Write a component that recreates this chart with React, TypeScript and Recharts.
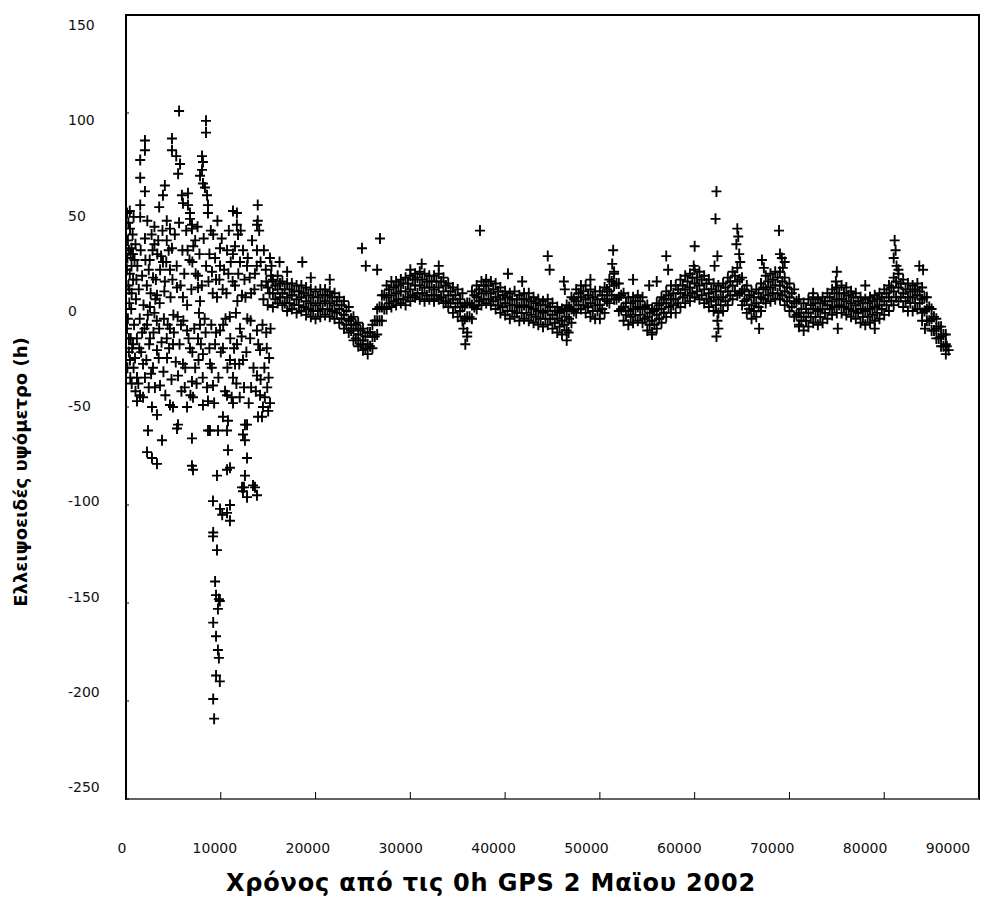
import React from "react";
import { ScatterChart, Scatter, XAxis, YAxis, ReferenceArea } from "recharts";

// tick labels
const xTicks = [0, 10000, 20000, 30000, 40000, 50000, 60000, 70000, 80000, 90000];
const yTicks = [-250, -200, -150, -100, -50, 0, 50, 100, 150];

// dense band after ~15500 s, sampled every 500 s (centre, upper and lower edge)
const bandStart = 15500;
const bandStep = 500;
const bandMid = [
  8, 10, 8, 6, 7, 5, 6, 4, 3, 2,
  3, 4, 3, 2, 0, -3, -6, -10, -13, -16,
  -18, -14, -6, 1, 6, 7, 8, 9, 9, 10,
  12, 12, 11, 11, 10, 11, 9, 7, 5, 3,
  1, -4, 2, 6, 8, 9, 8, 6, 5, 3,
  2, 2, 1, 2, 1, 0, -1, -2, -1, -3,
  -5, -6, -4, 0, 4, 6, 5, 3, 2, 2,
  5, 9, 12, 6, 1, -1, 0, 1, 0, -4,
  -6, -3, 0, 3, 5, 5, 8, 10, 11, 13,
  12, 10, 8, 6, 5, 6, 9, 12, 14, 9,
  5, 2, 3, 6, 10, 11, 12, 12, 9, 6,
  3, -2, -4, -2, 0, -1, 0, 2, 4, 5,
  5, 4, 3, 2, 0, -1, 0, 1, 2, 4,
  6, 9, 11, 8, 6, 6, 7, 5, 0, -5,
  -10, -14, -18,
];
const bandHigh = [
  15, 17, 14, 13, 13, 12, 12, 11, 10, 9,
  10, 10, 9, 8, 6, 4, 1, -4, -7, -10,
  -12, -8, 0, 7, 12, 14, 14, 15, 16, 17,
  18, 19, 18, 17, 17, 18, 16, 13, 11, 10,
  8, 3, 9, 12, 14, 15, 14, 13, 11, 9,
  8, 9, 7, 8, 8, 6, 5, 4, 5, 3,
  1, 0, 2, 6, 10, 12, 12, 10, 9, 9,
  11, 15, 18, 13, 8, 6, 6, 7, 6, 2,
  0, 3, 6, 9, 12, 12, 15, 17, 18, 20,
  19, 17, 15, 13, 12, 13, 16, 19, 21, 16,
  12, 9, 10, 13, 17, 18, 19, 19, 16, 13,
  10, 5, 3, 5, 6, 5, 6, 8, 10, 11,
  12, 11, 9, 8, 6, 5, 6, 7, 8, 10,
  12, 16, 18, 15, 13, 12, 13, 11, 6, 0,
  -5, -9, -13,
];
const bandLow = [
  1, 3, 2, -1, 0, -2, -1, -3, -4, -5,
  -4, -3, -4, -5, -7, -10, -12, -16, -19, -21,
  -23, -20, -13, -6, 0, 1, 2, 3, 2, 4,
  6, 5, 4, 5, 4, 5, 3, 1, -2, -4,
  -6, -12, -5, 0, 2, 3, 2, 0, -2, -3,
  -5, -4, -6, -5, -6, -7, -8, -9, -8, -10,
  -12, -13, -11, -7, -2, 0, -2, -4, -5, -5,
  -2, 3, 5, -1, -6, -8, -7, -6, -7, -11,
  -13, -10, -7, -4, -2, -2, 1, 3, 4, 6,
  5, 3, 1, -1, -2, -1, 2, 5, 7, 2,
  -2, -5, -4, -1, 3, 4, 5, 5, 2, -1,
  -4, -9, -11, -9, -7, -8, -7, -5, -3, -2,
  -2, -3, -4, -5, -7, -8, -7, -6, -5, -3,
  -1, 2, 4, 1, -1, -1, 0, -2, -6, -11,
  -15, -19, -23,
];

// second pass of the band, half a step later (upper and lower inner rows)
const band2Start = 15750;
const bandUpperInner = [
  12, 13, 10, 10, 9, 9, 8, 7, 6, 6,
  7, 7, 6, 4, 2, -1, -5, -8, -11, -14,
  -12, -6, 1, 7, 10, 11, 12, 13, 13, 15,
  16, 15, 14, 14, 14, 14, 12, 9, 7, 5,
  2, 3, 7, 10, 12, 12, 10, 9, 7, 6,
  5, 5, 5, 5, 4, 3, 2, 2, 1, -1,
  -2, -1, 1, 5, 8, 9, 7, 6, 5, 7,
  10, 14, 13, 7, 3, 3, 4, 4, 1, -2,
  -1, 2, 5, 7, 8, 10, 12, 14, 16, 16,
  15, 13, 10, 9, 9, 11, 14, 17, 15, 10,
  7, 6, 8, 11, 14, 15, 16, 14, 11, 8,
  4, 0, 0, 2, 3, 3, 4, 6, 8, 8,
  8, 7, 6, 4, 3, 3, 4, 5, 6, 8,
  11, 14, 13, 10, 9, 10, 9, 6, 1, -4,
  -9, -13,
];
const bandLowerInner = [
  5, 6, 3, 3, 2, 2, 1, 0, -1, -1,
  0, 0, -1, -2, -5, -8, -11, -15, -18, -20,
  -19, -14, -6, 0, 3, 4, 5, 5, 6, 7,
  8, 8, 7, 7, 7, 6, 4, 3, 1, -1,
  -5, -4, 1, 4, 5, 5, 4, 2, 1, -1,
  -1, -2, -2, -2, -3, -4, -5, -5, -5, -7,
  -9, -8, -5, -1, 2, 2, 1, -1, -1, 0,
  4, 7, 5, 0, -3, -4, -3, -3, -5, -8,
  -8, -5, -2, 1, 2, 3, 6, 7, 8, 9,
  7, 5, 4, 2, 2, 4, 7, 9, 8, 4,
  0, -1, 1, 5, 7, 8, 8, 7, 4, 1,
  -3, -6, -6, -4, -4, -4, -2, 0, 1, 2,
  1, 0, -1, -2, -4, -4, -3, -2, 0, 2,
  4, 6, 6, 4, 3, 3, 3, -1, -6, -11,
  -15, -19,
];

// isolated spikes around the band: [time, height]
const bandSpikes = [
  [16200, 24], [17000, 19], [18600, 24], [19500, 16], [21500, 15],
  [24900, 31], [26800, 36], [25300, 22], [26500, 20],
  [30000, 20], [31200, 23], [33000, 22],
  [35800, -18], [36000, -14], [35600, -10],
  [37350, 40], [40300, 18], [41800, 14],
  [44500, 27], [44700, 20],
  [46500, -16], [46700, -12], [46300, 10], [46200, 14], [49000, 15],
  [51400, 30], [51300, 23], [51500, 19], [53500, 15],
  [55500, -12], [55200, 12], [56000, 14], [57200, 20], [57000, 27],
  [60000, 32], [59900, 22],
  [62300, 60], [62200, 46], [62400, 27], [62100, 22], [62300, -14], [62500, -10], [62400, -6],
  [64500, 41], [64600, 37], [64400, 33], [64700, 28], [64800, 24],
  [67100, 25], [67300, 21], [66800, -10],
  [68900, 40], [69000, 28], [69200, 26], [69500, 24], [69300, 21],
  [71000, -8], [72500, 8],
  [75000, 19], [74900, 14], [75100, -10], [78000, 12], [79000, -10],
  [81100, 35], [81200, 30], [81000, 26], [81300, 22], [81500, 20],
  [83700, 22], [84100, 20], [84000, -6], [84300, -10],
  [86800, -21], [86600, -19],
];

// first 15000 s, scattered points above zero
const earlyUpper = [
  [5600, 101], [8440, 96], [8440, 90],
  [2000, 86], [2000, 81], [1500, 76], [1500, 67], [2000, 60], [1500, 53], [1500, 47], [2000, 36],
  [4850, 87], [4850, 81], [5300, 78], [5700, 74], [5500, 69],
  [4100, 63], [3900, 58], [3500, 52], [4300, 45], [4640, 41], [4300, 35], [4850, 31], [3900, 24], [4640, 20], [4100, 14],
  [5900, 58], [6010, 54], [6540, 59], [6540, 53], [6750, 49], [6960, 43],
  [8020, 78], [8120, 75], [8020, 71], [7810, 68], [8120, 64], [8330, 62], [8550, 58], [8650, 53], [8650, 49],
  [6750, 46], [6960, 41],
  [11700, 49], [11700, 43], [11820, 38], [11290, 50],
  [13900, 53], [13900, 45], [13820, 43],
  [9920, 31], [10660, 30], [11290, 28], [9920, 22], [12030, 24], [12770, 22], [13820, 30], [15190, 26], [15300, 17], [14970, 11],
  [9070, 19], [105, 49], [420, 41], [580, 31], [740, 28], [580, 22],
  [7600, 17], [7600, 11], [7810, 4], [2850, 16], [3270, 7], [2530, 1], [5380, 11], [6010, 6],
  [9600, 6], [12240, 7],
  [200, 35], [300, 30], [150, 26], [400, 18], [250, 12], [600, 8], [350, 3], [900, 25], [1100, 15], [400, 50], [800, 47],
  [2700, 38], [3000, 33], [2500, 25], [3300, 28], [3600, 20], [2200, 12], [3100, 5],
  [6500, 30], [7000, 24], [7300, 35], [9200, 38], [8800, 28], [9500, 15], [10200, 10], [10800, 18],
  [11500, 12], [12500, 15], [13200, 8], [13600, 18], [14200, 24], [14500, 5], [14800, 14],
];

// first 15000 s, the crowded middle between about -45 and +45
const earlyMiddle = [
  [100, 20], [150, -30], [250, 44], [300, -15], [350, 10], [450, -35], [500, 28], [550, 0], [650, -20], [700, 38],
  [750, 15], [850, -8], [950, -25], [1000, 33], [1050, 5], [1150, -15], [1200, 22], [1300, -38], [1350, 10], [1450, -5],
  [1550, 30], [1600, -22], [1700, 17], [1800, -45], [1850, 2], [1950, -10], [2050, 25], [2150, -26], [2250, 45], [2300, -3],
  [2400, 20], [2450, -18], [2600, 8], [2650, -33], [2800, 30], [2900, -12], [3000, 42], [3050, -40], [3150, 15], [3250, -6],
  [3400, 35], [3450, -25], [3550, 3], [3700, 27], [3750, -17], [3850, 40], [3950, -32], [4050, 9], [4150, -44], [4250, 24],
  [4400, -8], [4500, 30], [4550, -20], [4700, 6], [4800, -36], [4900, 15], [5050, -12], [5150, 38], [5250, -27], [5350, 22],
  [5450, -4], [5600, 44], [5650, -18], [5750, 12], [5850, -42], [5950, 30], [6050, -6], [6150, 18], [6250, -30], [6350, 40],
  [6450, 2], [6600, -15], [6700, 25], [6800, -44], [6900, 10], [7000, -22], [7100, 32], [7200, -10], [7350, 18], [7450, -38],
  [7550, 42], [7650, -26], [7750, 28], [7900, -18], [8000, 12], [8100, -35], [8200, 36], [8300, -5], [8450, 22], [8550, -40],
  [8700, 14], [8800, -20], [8950, 40], [9050, -30], [9150, 8], [9300, -48], [9400, 26], [9500, -12], [9650, 45], [9750, -35],
  [9850, 15], [10000, -22], [10100, 36], [10250, -8], [10350, 20], [10450, -42], [10600, 8], [10700, -30], [10850, 40], [10950, -4],
  [11050, 24], [11150, -45], [11250, 14], [11400, -20], [11500, 32], [11650, -38], [11750, 4], [11850, 18], [11950, -28], [12100, 40],
  [12200, -14], [12350, 30], [12450, -40], [12600, 6], [12700, -22], [12850, 26], [12950, -48], [13050, 16], [13150, -6], [13300, 35],
  [13450, -30], [13550, 10], [13700, -42], [13800, 22], [13950, -18], [14050, 40], [14200, -36], [14300, 12], [14400, -8], [14550, 30],
  [14650, -45], [14750, 20], [14850, -20], [14950, 2], [15050, -35], [15150, 8], [15250, -10], [15350, 22], [15450, 14],
];

// first 15000 s, scattered points below zero
const earlyLower = [
  [105, -10], [740, -18], [420, -26], [1160, -35], [1480, -44], [1160, -47],
  [2220, -8], [2530, -15], [3270, -21], [2850, -30], [3590, -39], [2740, -50], [3270, -54],
  [4640, -10], [4960, -18], [4330, -25], [5490, -34], [4640, -49], [5490, -59],
  [6440, -11], [6750, -20], [6010, -28], [6960, -37], [7070, -45], [6440, -50],
  [7810, -8], [7600, -15], [8120, -23],
  [8860, -28], [9180, -39], [8650, -47], [8860, -62],
  [9920, -11], [10230, -20], [10970, -26], [10660, -44], [10230, -55], [10660, -62], [10760, -72], [10970, -81],
  [12030, -10], [11710, -18], [12340, -26], [11290, -35], [12550, -59], [12340, -64], [12770, -76], [12550, -85], [12340, -93], [13400, -90],
  [13820, -11], [14140, -21], [13820, -34], [14140, -44], [14450, -50], [13930, -55],
  [9180, -98], [9920, -102], [10150, -105],
  [2320, -62], [3800, -67], [2220, -73], [2740, -76], [3270, -79], [5380, -61], [6960, -66], [6960, -80], [7070, -82],
  [8650, -62], [9710, -62], [10760, -57], [12770, -59], [12550, -67], [14350, -55],
  [10660, -82], [12240, -91], [12450, -91], [10970, -100], [10660, -104], [10970, -108], [9600, -85], [13610, -91], [13820, -95], [12770, -96],
  [4960, -50], [8120, -49], [11290, -48],
  [200, -5], [500, -15], [300, -22], [800, -30], [600, -38], [1000, -42], [1400, -20], [1800, -28], [1700, -12], [2000, -35], [2400, -40],
  [3000, -2], [3500, -10], [4000, -5], [4300, -15], [5000, -3], [5800, -8], [6200, -40], [7300, -30], [7700, -2], [8400, -12],
  [9000, -8], [9400, -18], [10500, -5], [11000, -15], [11600, -2], [12800, -5], [13100, -15], [14600, -30], [14800, -12],
  [14900, -40], [15100, -25], [15200, -48], [15000, -52], [13200, -40], [12000, -45], [11500, -28],
];

// the deep excursion near 9000-10000 s
const earlyTail = [
  [9200, -114], [9180, -116], [9600, -123], [9400, -139], [9500, -146], [9800, -148], [9900, -149], [9700, -153],
  [9200, -160], [9500, -167], [9700, -174], [9800, -178], [9500, -187], [9900, -190], [9200, -199], [9300, -209],
];

const fromBand = (vals: number[], start: number) => vals.map((y, i) => ({ x: start + i * bandStep, y }));
const fromPairs = (pts: number[][]) => pts.map(([x, y]) => ({ x, y }));

const Plus = (props: any) => {
  const { cx, cy } = props;
  if (cx == null || cy == null) return null;
  return (
    <path
      d={`M${cx - 5},${cy}H${cx + 5}M${cx},${cy - 5.5}V${cy + 5.5}`}
      stroke="#000"
      strokeWidth={1.9}
      fill="none"
    />
  );
};

const XTick = (props: any) => {
  const { x, y, payload } = props;
  const f = payload.value / 90000;
  return (
    <text x={x - 4 - f * 17} y={y} dy={11} textAnchor="middle" fontSize={14} fontFamily="DejaVu Sans" fill="#111">
      {payload.value}
    </text>
  );
};

const YTick = (props: any) => {
  const { y, payload } = props;
  const off = 10 - (150 - payload.value) * 0.055;
  return (
    <text x={68} y={y + off} dy={5} textAnchor="start" fontSize={14} fontFamily="DejaVu Sans" fill="#111">
      {payload.value}
    </text>
  );
};

const series = [
  fromBand(bandMid, bandStart),
  fromBand(bandHigh, bandStart),
  fromBand(bandLow, bandStart),
  fromBand(bandUpperInner, band2Start),
  fromBand(bandLowerInner, band2Start),
  fromPairs(bandSpikes),
  fromPairs(earlyUpper),
  fromPairs(earlyMiddle),
  fromPairs(earlyLower),
  fromPairs(earlyTail),
];

export default function App() {
  return (
    <div style={{ position: "fixed", left: 0, top: 0, width: 989, height: 899, background: "#fff" }}>
      <ScatterChart width={989} height={899} margin={{ top: 15, right: 10, bottom: 0, left: 0 }}>
        <XAxis
          type="number"
          dataKey="x"
          domain={[0, 90000]}
          ticks={xTicks}
          height={100}
          tickSize={-7}
          tickMargin={50}
          tick={<XTick />}
          axisLine={{ stroke: "#8a8090", strokeWidth: 1.5 }}
          tickLine={{ stroke: "#000" }}
          allowDataOverflow
        />
        <YAxis
          type="number"
          dataKey="y"
          domain={[-250, 150]}
          ticks={yTicks}
          width={126}
          tickSize={-3}
          tickMargin={30}
          tick={<YTick />}
          axisLine={{ stroke: "#000", strokeWidth: 2 }}
          tickLine={{ stroke: "#000" }}
          allowDataOverflow
        />
        <ReferenceArea x1={0} x2={90000} y1={-250} y2={150} fill="none" stroke="#000" strokeWidth={2} />
        {series.map((d, i) => (
          <Scatter key={i} data={d} shape={<Plus />} isAnimationActive={false} />
        ))}
        <text
          x={491}
          y={891}
          textAnchor="middle"
          fontSize={24}
          letterSpacing={0.8}
          fontWeight="bold"
          fontFamily="DejaVu Sans"
          fill="#000"
        >
          Χρόνος από τις 0h GPS 2 Μαϊου 2002
        </text>
        <text
          x={0}
          y={0}
          transform="translate(27 472) rotate(-90)"
          textAnchor="middle"
          fontSize={18}
          fontWeight="bold"
          fontFamily="DejaVu Sans"
          fill="#000"
        >
          Ελλειψοειδές υψόμετρο  (h)
        </text>
      </ScatterChart>
    </div>
  );
}
